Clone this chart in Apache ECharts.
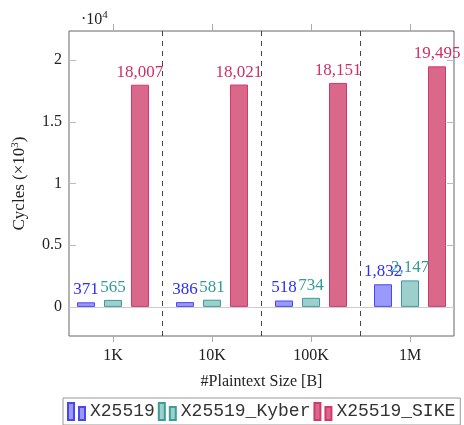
<!DOCTYPE html>
<html>
<head>
<meta charset="utf-8">
<script src="https://cdn.jsdelivr.net/npm/echarts@6/dist/echarts.min.js"></script>
<style>html,body{margin:0;padding:0;background:#fff}#c{width:464px;height:425px}</style>
</head>
<body>
<div id="c"></div>
<script>
var categories = ['1K', '10K', '100K', '1M'];
var x25519 = [371, 386, 518, 1832];
var x25519Kyber = [565, 581, 734, 2147];
var x25519Sike = [18007, 18021, 18151, 19495];
var yTicks = [0, 5000, 10000, 15000, 20000];
var separators = [0.5, 1.5, 2.5];

function toData(arr) { return arr.map(function (v, i) { return [i, v]; }); }
function fmt(v) { return String(v).replace(/\B(?=(\d{3})+(?!\d))/g, ','); }

var serif = 'Liberation Serif';
var icon = 'path://M0,0h6v17h-6z M11,4h6v13h-6z';

function barSeries(name, data, fill, stroke, labelColor) {
  return {
    name: name, type: 'bar', data: toData(data),
    barWidth: 18, barGap: '50%',
    itemStyle: { color: fill, borderColor: stroke, borderWidth: 1 },
    label: {
      show: true, position: 'top', distance: 4,
      color: labelColor, fontFamily: serif, fontSize: 17,
      formatter: function (p) { return fmt(p.value[1]); }
    }
  };
}

var chart = echarts.init(document.getElementById('c'), null, { renderer: 'canvas' });
chart.setOption({
  animation: false,
  title: {
    text: '·10{sup|4}', left: 76, top: 5,
    textStyle: { fontFamily: serif, fontSize: 16, fontWeight: 'normal', color: '#222',
      rich: { sup: { fontFamily: serif, fontSize: 11, color: '#222', verticalAlign: 'top', padding: [0, 0, 8, 0] } } }
  },
  grid: { left: 69, right: 10, top: 31, bottom: 89, show: true, borderColor: '#666', borderWidth: 1, containLabel: false },
  xAxis: [{
    type: 'value', min: -0.4444, max: 3.4444, position: 'bottom',
    name: '#Plaintext Size [B]', nameLocation: 'middle', nameGap: 38,
    nameTextStyle: { fontFamily: serif, fontSize: 16, color: '#222' },
    axisLine: { show: false, onZero: false }, splitLine: { show: false },
    axisTick: { show: true, inside: false, length: 6, customValues: [0, 1, 2, 3], lineStyle: { color: '#aaa' } },
    axisLabel: { customValues: [0, 1, 2, 3], margin: 12, fontFamily: serif, fontSize: 16, color: '#222',
      formatter: function (v) { return categories[Math.round(v)]; } }
  }, {
    type: 'value', min: -0.4444, max: 3.4444, position: 'top',
    axisLine: { show: false, onZero: false }, splitLine: { show: false },
    axisTick: { show: true, inside: false, length: 7, customValues: [0, 1, 2, 3], lineStyle: { color: '#aaa' } },
    axisLabel: { show: false }
  }],
  yAxis: [{
    type: 'value', min: -2360, max: 22360, position: 'left',
    name: 'Cycles (×10{sup|3})', nameLocation: 'middle', nameGap: 40,
    nameTextStyle: { fontFamily: serif, fontSize: 17, color: '#222',
      rich: { sup: { fontFamily: serif, fontSize: 11, color: '#222', verticalAlign: 'top', padding: [0, 0, 8, 0] } } },
    axisLine: { show: false, onZero: false }, splitLine: { show: false },
    axisTick: { show: true, inside: true, length: 7, customValues: yTicks, lineStyle: { color: '#bbb' } },
    axisLabel: { customValues: yTicks, margin: 7, fontFamily: serif, fontSize: 16, color: '#222',
      formatter: function (v) { return String(v / 10000); } }
  }, {
    type: 'value', min: -2360, max: 22360, position: 'right',
    axisLine: { show: false, onZero: false }, splitLine: { show: false },
    axisTick: { show: true, inside: true, length: 7, customValues: yTicks, lineStyle: { color: '#bbb' } },
    axisLabel: { show: false }
  }],
  legend: {
    left: 63, top: 398, padding: [4, 5, 4, 4], itemGap: 3, itemWidth: 17, itemHeight: 17,
    borderColor: '#999', borderWidth: 1,
    textStyle: { fontFamily: 'Liberation Mono', fontSize: 18, color: '#333' },
    data: [
      { name: 'X25519', icon: icon },
      { name: 'X25519_Kyber', icon: icon },
      { name: 'X25519_SIKE', icon: icon }
    ]
  },
  series: [
    {
      name: 'guides', type: 'line', data: [], silent: true,
      markLine: {
        silent: true, symbol: 'none', label: { show: false }, animation: false,
        data: separators.map(function (s) {
          return { xAxis: s, lineStyle: { color: '#444', type: [5, 5], width: 1 } };
        }).concat([{ yAxis: 0, lineStyle: { color: '#ccc', type: 'solid', width: 1 } }])
      }
    },
    barSeries('X25519', x25519, '#9a9afc', '#4848f0', '#2e2efa'),
    barSeries('X25519_Kyber', x25519Kyber, '#9dcfcc', '#3d9c98', '#339b97'),
    barSeries('X25519_SIKE', x25519Sike, '#da688a', '#cf3a6b', '#d12e63')
  ]
});
</script>
</body>
</html>
